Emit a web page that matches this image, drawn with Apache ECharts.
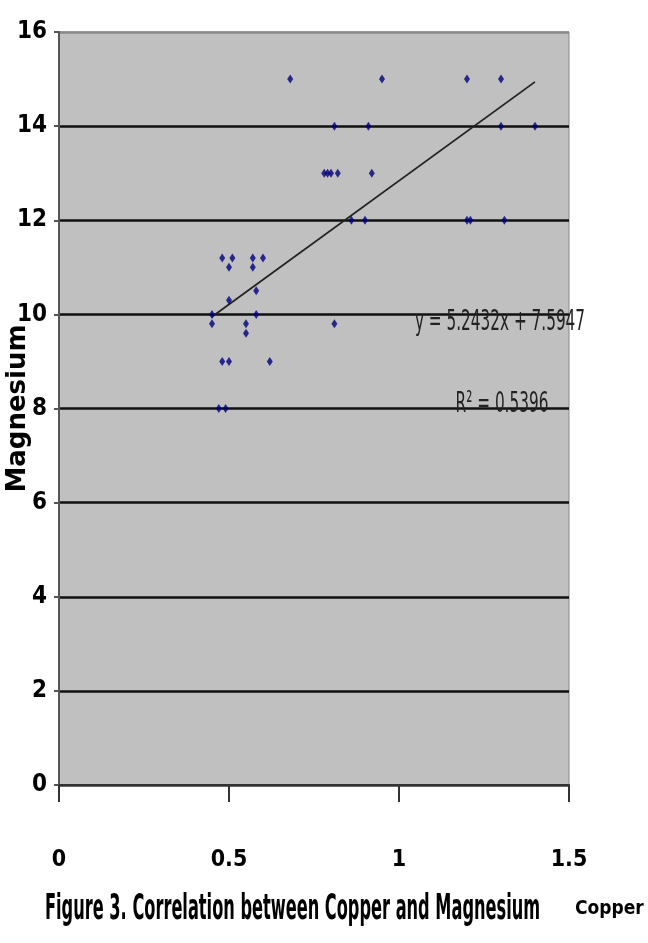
<!DOCTYPE html>
<html>
<head>
<meta charset="utf-8">
<script src="https://cdn.jsdelivr.net/npm/echarts@6/dist/echarts.min.js"></script>
<style>
html,body{margin:0;padding:0;background:#fff;}
#chart{width:648px;height:943px;}
</style>
</head>
<body>
<div id="chart"></div>
<script>
// Copper (x) values
var copper = [0.48,0.51,0.50,0.57,0.57,0.60,0.50,0.58,0.58,0.45,0.45,0.55,0.55,0.48,0.50,0.62,0.47,0.49,
              0.68,0.95,0.81,0.91,0.78,0.79,0.80,0.82,0.92,0.86,0.90,0.81,
              1.20,1.30,1.30,1.40,1.20,1.21,1.31];
// Magnesium (y) values
var magnesium = [11.2,11.2,11.0,11.2,11.0,11.2,10.3,10.5,10.0,10.0,9.8,9.8,9.6,9.0,9.0,9.0,8.0,8.0,
                 15,15,14,14,13,13,13,13,13,12,12,9.8,
                 15,15,14,14,12,12,12];
// Linear trendline end points (as drawn)
var trendX = [0.45, 1.40];
var trendY = [9.95, 14.94];
var xTicks = ['0','0.5','1','1.5'];
var yTicks = ['0','2','4','6','8','10','12','14','16'];
var equationText = 'y = 5.2432x + 7.5947';
var r2Text = 'R² = 0.5396';
var captionText = 'Figure 3. Correlation between Copper and Magnesium';
var xName = 'Copper';
var yName = 'Magnesium';

var points = copper.map(function(c,i){ return [c, magnesium[i]]; });
var trend = trendX.map(function(x,i){ return [x, trendY[i]]; });

var narrow = '"Liberation Sans Narrow","DejaVu Sans Condensed","Arial Narrow",sans-serif';
var chart = echarts.init(document.getElementById('chart'), null, {renderer:'canvas'});
chart.setOption({
  animation:false,
  backgroundColor:'#ffffff',
  grid:{left:59,right:79,top:32,bottom:158,containLabel:false,outerBoundsMode:'none',
        show:true,backgroundColor:'#c0c0c0',borderColor:'#8a8a8a',borderWidth:1},
  xAxis:{
    type:'value',min:0,max:1.5,interval:0.5,
    name:xName,nameLocation:'end',nameGap:6,nameMoveOverlap:false,
    nameTextStyle:{color:'#000',fontFamily:narrow,fontWeight:'bold',fontSize:19,verticalAlign:'top',align:'left',padding:[115,0,0,0]},
    axisLine:{show:true,onZero:false,lineStyle:{color:'#333',width:2}},
    axisTick:{show:true,length:17,lineStyle:{color:'#333',width:2}},
    axisLabel:{margin:64,color:'#000',fontFamily:narrow,fontWeight:'bold',fontSize:23,
      formatter:function(v){ var i=Math.round(v/0.5); return xTicks[i]; }},
    splitLine:{show:false}
  },
  yAxis:{
    type:'value',min:0,max:16,interval:2,
    name:yName,nameLocation:'middle',nameRotate:90,nameGap:28,nameMoveOverlap:false,
    nameTextStyle:{color:'#000',fontFamily:'"DejaVu Sans",sans-serif',fontWeight:'bold',fontSize:26},
    axisLine:{show:true,lineStyle:{color:'#555',width:2}},
    axisTick:{show:true,length:5,lineStyle:{color:'#555',width:2}},
    axisLabel:{margin:12,color:'#000',fontFamily:narrow,fontWeight:'bold',fontSize:24,
      formatter:function(v){ return yTicks[Math.round(v/2)]; }},
    splitLine:{show:true,lineStyle:{color:['#333','#111','#111','#111','#111','#111','#111','#111','#8a8a8a'],width:2.5}}
  },
  series:[
    {type:'scatter',data:points,symbol:'diamond',symbolSize:[6,9],
     itemStyle:{color:'#00007a'},z:3},
    {type:'line',data:trend,symbol:'none',lineStyle:{color:'#222',width:1.8},z:2}
  ],
  graphic:[
    {type:'text',x:500,y:322,scaleY:1.7,z:10,
     style:{text:equationText,fill:'#222',font:'normal 17px '+narrow,textAlign:'center',textVerticalAlign:'middle'}},
    {type:'text',x:502,y:404,scaleY:1.7,z:10,
     style:{text:r2Text,fill:'#222',font:'normal 17px '+narrow,textAlign:'center',textVerticalAlign:'middle'}},
    {type:'text',x:45,y:910,scaleY:2.0,z:10,
     style:{text:captionText,fill:'#000',font:'bold 18px '+narrow,textAlign:'left',textVerticalAlign:'middle'}}
  ]
});
</script>
</body>
</html>
